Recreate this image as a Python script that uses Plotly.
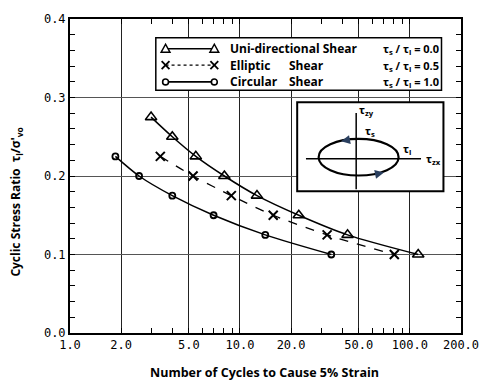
import plotly.graph_objects as go

# ---- data ----
uni_n = [3.0, 4.0, 5.5, 8.1, 12.6, 22.2, 43.0, 112.0]
uni_r = [0.275, 0.25, 0.225, 0.2, 0.175, 0.15, 0.125, 0.1]
ell_n = [3.4, 5.3, 8.9, 15.7, 32.6, 81.0]
ell_r = [0.225, 0.2, 0.175, 0.15, 0.125, 0.1]
cir_n = [1.85, 2.55, 4.0, 7.0, 14.1, 34.5]
cir_r = [0.225, 0.2, 0.175, 0.15, 0.125, 0.1]

series_first = ["Uni-directional Shear", "Elliptic", "Circular"]
series_second = ["", "Shear", "Shear"]
ratio_labels = ["\u03c4<sub>s</sub> / \u03c4<sub>l</sub> = 0.0",
                "\u03c4<sub>s</sub> / \u03c4<sub>l</sub> = 0.5",
                "\u03c4<sub>s</sub> / \u03c4<sub>l</sub> = 1.0"]
x_ticks = [1, 2, 5, 10, 20, 50, 100, 200]
x_ticktext = ["1.0", "2.0", "5.0", "10.0", "20.0", "50.0", "100.0", "200.0"]
y_ticks = [0.0, 0.1, 0.2, 0.3, 0.4]
y_ticktext = ["0.0", "0.1", "0.2", "0.3", "0.4"]
x_minor = [3, 4, 6, 7, 8, 9, 30, 40, 60, 70, 80, 90]

W, H = 491, 382
L, R, T, B = 70, 20, 16, 49
pw, ph = W - L - R, H - T - B

def px(x):
    return (x - L) / pw

def py(y):
    return (H - B - y) / ph

fig = go.Figure()
fig.add_trace(go.Scatter(x=uni_n, y=uni_r, name=series_first[0], mode="lines+markers",
                         line=dict(color="black", width=1.5, shape="spline", smoothing=0.8),
                         marker=dict(symbol="triangle-up-open", size=10, color="black",
                                     line=dict(width=1.6, color="black"))))
fig.add_trace(go.Scatter(x=ell_n, y=ell_r, name=series_first[1], mode="lines+markers",
                         line=dict(color="black", width=1.3, dash="dash", shape="spline", smoothing=0.8),
                         marker=dict(symbol="x-thin-open", size=9, color="black",
                                     line=dict(width=2, color="black"))))
fig.add_trace(go.Scatter(x=cir_n, y=cir_r, name=series_first[2], mode="lines+markers",
                         line=dict(color="black", width=1.5, shape="spline", smoothing=0.8),
                         marker=dict(symbol="circle-open", size=6, color="black",
                                     line=dict(width=1.8, color="black"))))

shapes = []
# legend box
shapes.append(dict(type="rect", xref="paper", yref="paper", layer="above",
                   x0=px(158), x1=px(451), y0=py(88), y1=py(35),
                   line=dict(color="black", width=1.5), fillcolor="white"))
# legend keys
rows = [46, 62.5, 79.5]
kx0, kx1 = 168, 218
dashes = ["solid", "dot", "solid"]
for i, yy in enumerate(rows):
    shapes.append(dict(type="line", xref="paper", yref="paper", layer="above",
                       x0=px(kx0), x1=px(kx1), y0=py(yy), y1=py(yy),
                       line=dict(color="black", width=1.3 if i == 1 else 1.6, dash=dashes[i])))
    for kx in (kx0, kx1):
        if i == 0:
            path = "M{},{} L{},{} L{},{} Z".format(px(kx), py(yy - 4.5), px(kx - 4.5), py(yy + 3.5),
                                                  px(kx + 4.5), py(yy + 3.5))
            shapes.append(dict(type="path", xref="paper", yref="paper", layer="above", path=path,
                               line=dict(color="black", width=1.5), fillcolor="white"))
        elif i == 1:
            for s in (1, -1):
                shapes.append(dict(type="line", xref="paper", yref="paper", layer="above",
                                   x0=px(kx - 4), x1=px(kx + 4), y0=py(yy - 4 * s), y1=py(yy + 4 * s),
                                   line=dict(color="black", width=1.8)))
        else:
            shapes.append(dict(type="circle", xref="paper", yref="paper", layer="above",
                               x0=px(kx - 3), x1=px(kx + 3), y0=py(yy + 3), y1=py(yy - 3),
                               line=dict(color="black", width=1.6), fillcolor="white"))
# inset box
shapes.append(dict(type="rect", xref="paper", yref="paper", layer="above",
                   x0=px(303), x1=px(453), y0=py(190), y1=py(100),
                   line=dict(color="black", width=2), fillcolor="white"))
# inset axes
shapes.append(dict(type="line", xref="paper", yref="paper", layer="above",
                   x0=px(312), x1=px(430), y0=py(157), y1=py(157),
                   line=dict(color="black", width=1.5)))
shapes.append(dict(type="line", xref="paper", yref="paper", layer="above",
                   x0=px(363.5), x1=px(363.5), y0=py(188), y1=py(111),
                   line=dict(color="black", width=1.5)))
# ellipse
shapes.append(dict(type="circle", xref="paper", yref="paper", layer="above",
                   x0=px(325), x1=px(407), y0=py(174), y1=py(137),
                   line=dict(color="black", width=2.2)))

lfont = dict(family="Open Sans", size=12, color="black", weight="bold")
annotations = []
for i, yy in enumerate(rows):
    annotations.append(dict(xref="paper", yref="paper", x=px(232), y=py(yy),
                            xanchor="left", yanchor="middle", showarrow=False,
                            text=series_first[i], font=lfont))
    if series_second[i]:
        annotations.append(dict(xref="paper", yref="paper", x=px(293), y=py(yy),
                                xanchor="left", yanchor="middle", showarrow=False,
                                text=series_second[i], font=lfont))
    annotations.append(dict(xref="paper", yref="paper", x=px(450), y=py(yy + 0.5),
                            xanchor="right", yanchor="middle", showarrow=False,
                            text=ratio_labels[i],
                            font=dict(family="Open Sans", size=11, color="black", weight="bold")))
# inset labels
inset_txt = [("\u03c4<sub>zy</sub>", 364, 108),
             ("\u03c4<sub>s</sub>", 371, 129),
             ("\u03c4<sub>l</sub>", 409, 147),
             ("\u03c4<sub>zx</sub>", 433, 157)]
for t, x, y in inset_txt:
    annotations.append(dict(xref="paper", yref="paper", x=px(x), y=py(y), xanchor="left",
                            yanchor="middle", showarrow=False, text=t,
                            font=dict(family="Open Sans", size=11, color="black", weight="bold")))
# ellipse direction arrows
annotations.append(dict(xref="paper", yref="paper", x=px(348), y=py(139.5), ax=10, ay=-2,
                        axref="pixel", ayref="pixel", showarrow=True, arrowhead=2,
                        arrowsize=1.2, arrowwidth=1.5, text=""))
annotations.append(dict(xref="paper", yref="paper", x=px(392), y=py(171), ax=-10, ay=2,
                        axref="pixel", ayref="pixel", showarrow=True, arrowhead=2,
                        arrowsize=1.2, arrowwidth=1.5, text=""))
# axis titles
annotations.append(dict(xref="paper", yref="paper", x=px(15), y=py(201), textangle=-90,
                        showarrow=False, xanchor="center", yanchor="middle",
                        text="Cyclic Stress Ratio  \u03c4<sub>l</sub>/\u03c3'<sub>vo</sub>",
                        font=dict(family="Open Sans", size=12, color="black", weight="bold")))
annotations.append(dict(xref="paper", yref="paper", x=px(269), y=py(373),
                        showarrow=False, xanchor="center", yanchor="middle",
                        text="Number of Cycles to Cause 5% Strain",
                        font=dict(family="Open Sans", size=12.5, color="black", weight="bold")))

tickfont = dict(family="DejaVu Sans Mono", size=12, color="black")
fig.update_layout(
    width=W, height=H, margin=dict(l=L, r=R, t=T, b=B),
    paper_bgcolor="white", plot_bgcolor="white",
    shapes=shapes, annotations=annotations,
    showlegend=False,
    xaxis=dict(type="log", range=[0, 2.30103], tickmode="array", tickvals=x_ticks,
               ticktext=x_ticktext, tickfont=tickfont, showgrid=True,
               gridcolor="#222", gridwidth=1, showline=True, linecolor="black",
               linewidth=2, mirror="ticks", ticks="inside", ticklen=5,
               tickcolor="black", zeroline=False,
               minor=dict(tickvals=x_minor, ticks="inside", ticklen=5,
                          tickcolor="black", showgrid=False)),
    yaxis=dict(range=[0, 0.4], tickmode="array", tickvals=y_ticks,
               ticktext=y_ticktext, tickfont=tickfont, showgrid=True,
               gridcolor="#555", gridwidth=1, showline=True, linecolor="black",
               linewidth=2, mirror="ticks", ticks="inside", ticklen=5,
               tickcolor="black", zeroline=False,
               minor=dict(dtick=0.02, ticks="inside", ticklen=5,
                          tickcolor="black", showgrid=False)),
)
fig.write_html("out.html")
